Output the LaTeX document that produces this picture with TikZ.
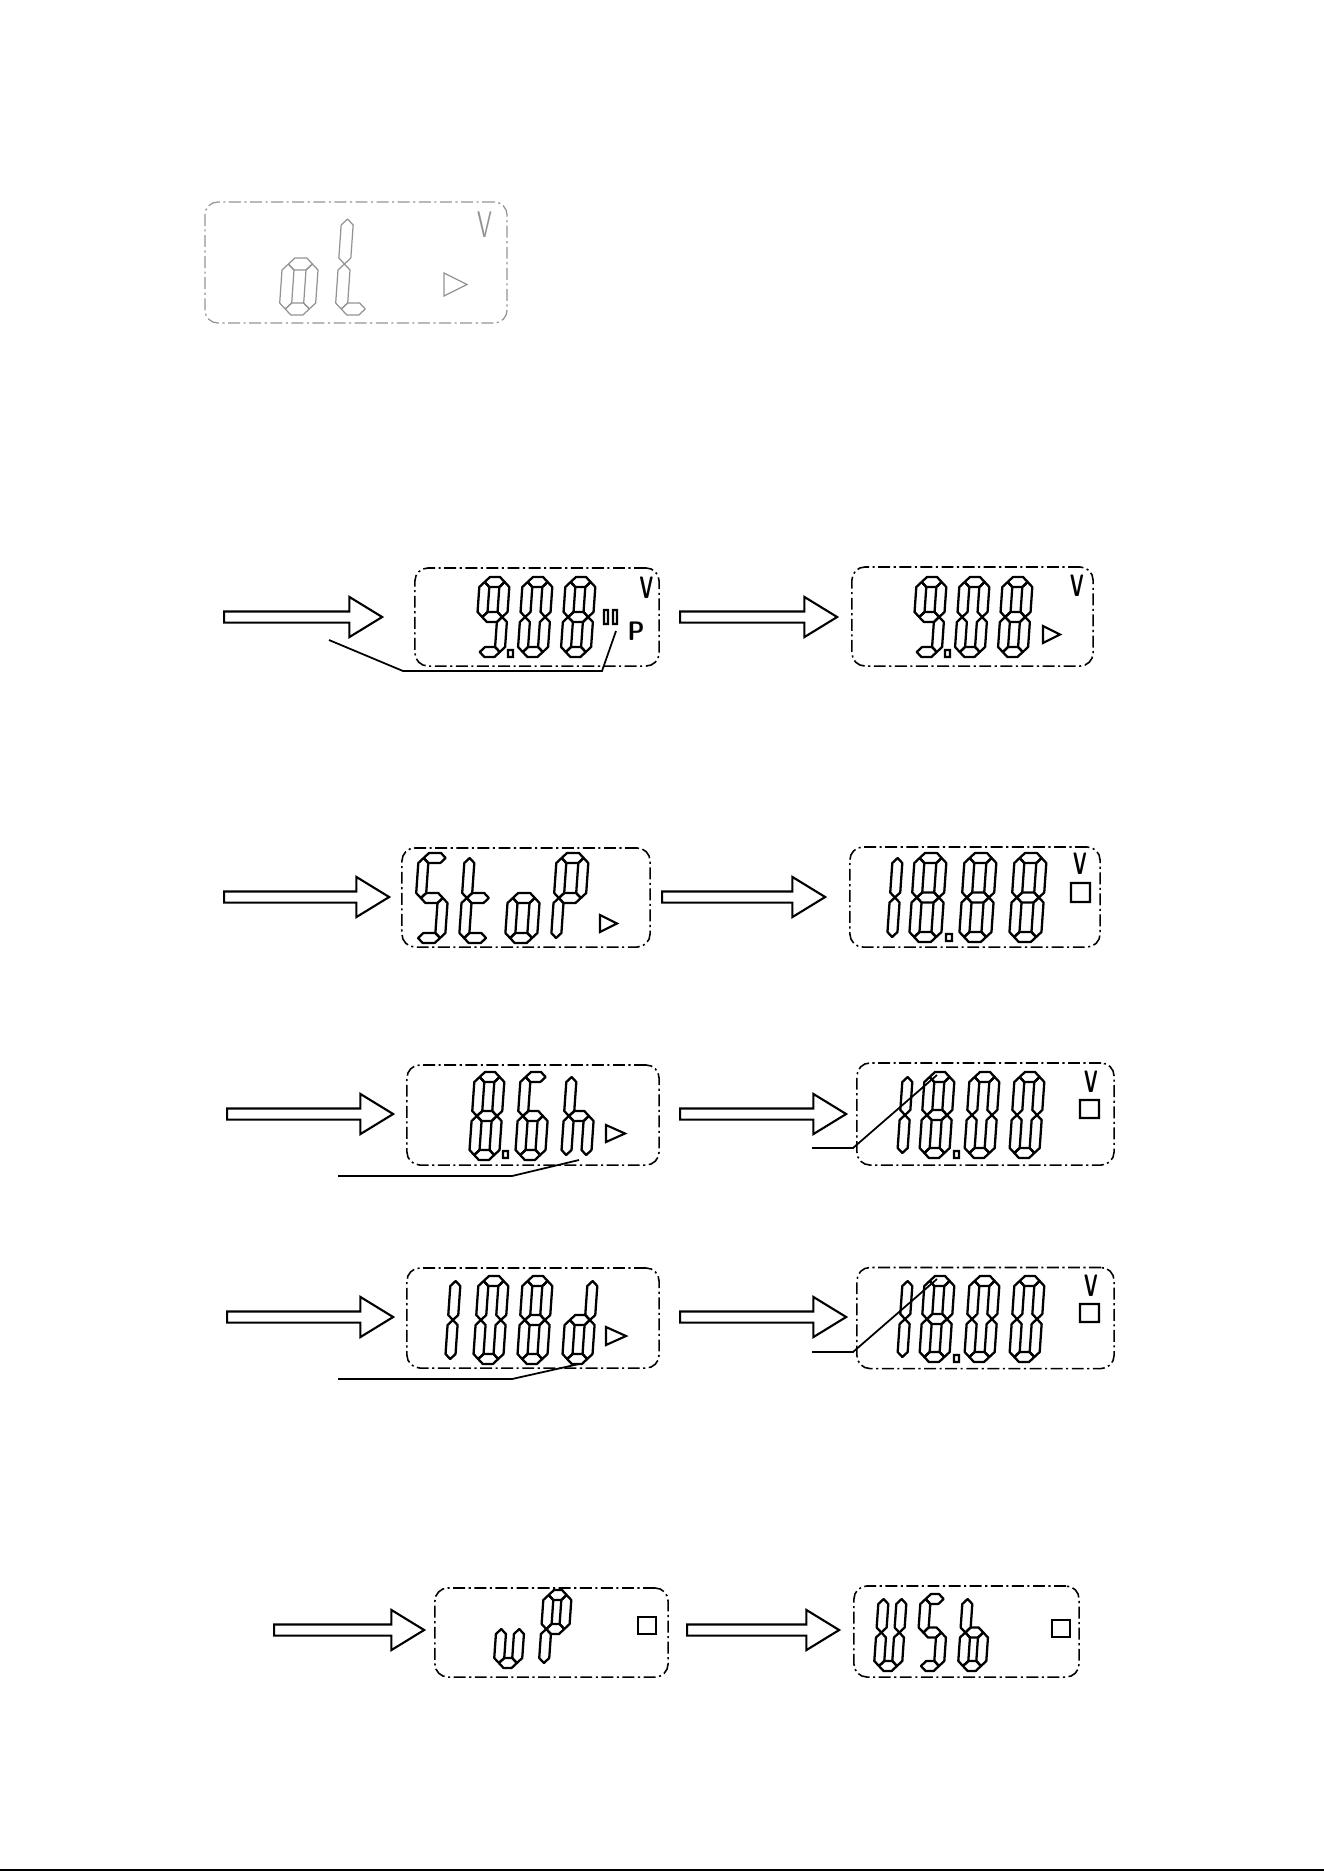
\documentclass[tikz,border=0pt]{standalone}
\usetikzlibrary{shapes.arrows}

\def\lhs{5}
\newcommand\lcdh[3]{\draw[lcdseg] (#1,#3) -- ({#1+\lhs},{#3-\lhs}) -- ({#2-\lhs},{#3-\lhs}) -- (#2,#3) -- ({#2-\lhs},{#3+\lhs}) -- ({#1+\lhs},{#3+\lhs}) -- cycle;}
\newcommand\lcdv[3]{\draw[lcdseg] (#1,#2) -- ({#1+\lhs},{#2+\lhs}) -- ({#1+\lhs},{#3-\lhs}) -- (#1,#3) -- ({#1-\lhs},{#3-\lhs}) -- ({#1-\lhs},{#2+\lhs}) -- cycle;}
\newcommand\lcdsega{\lcdh\lL\lR\lT}
\newcommand\lcdsegg{\lcdh\lL\lR\lM}
\newcommand\lcdsegd{\lcdh\lL\lR\lB}
\newcommand\lcdsegf{\lcdv\lL\lT\lM}
\newcommand\lcdsegb{\lcdv\lR\lT\lM}
\newcommand\lcdsege{\lcdv\lL\lM\lB}
\newcommand\lcdsegc{\lcdv\lR\lM\lB}
% #2,#3 top left corner, #4 width, #5 height, #6 lit segments
\newcommand\lcddigit[6][lcdbold]{%
  \begin{scope}[shift={(#2,#3)}, xslant=0.07, #1]
    \pgfmathsetmacro\lL{\lhs}
    \pgfmathsetmacro\lR{#4-\lhs}
    \pgfmathsetmacro\lT{\lhs}
    \pgfmathsetmacro\lM{#5/2}
    \pgfmathsetmacro\lB{#5-\lhs}
    \foreach \sg in {#6} {\csname lcdseg\sg\endcsname}
  \end{scope}}

\tikzset{
  lcdseg/.style={line join=round},
  lcdbold/.style={line width=0.65pt},
  lcdpale/.style={line width=0.35pt, color=gray!85, /utils/exec={\def\lhs{6}}},
  lcdbox/.style={draw, rounded corners=0.13cm, inner sep=0pt, line width=0.45pt,
                 dash pattern=on 3.4pt off 1pt on 0.6pt off 1pt},
  lcdicon/.style={line width=0.6pt},
  lcdunit/.style={inner sep=0pt, font=\sffamily\bfseries\fontsize{8.8}{8.8}\selectfont},
  blockarrow/.style={single arrow, draw, line width=0.6pt, inner xsep=0pt, inner ysep=0.045cm,
                     single arrow head extend=0.145cm, single arrow tip angle=63, anchor=tail},
  leader/.style={line width=0.5pt}
}

\begin{document}
\begin{tikzpicture}[x=0.01cm, y=-0.01cm]
  \useasboundingbox (0,0) rectangle (1324,1872);
  \path node (disp1)  at (356,262.5)   [lcdbox, draw=gray!85, line width=0.35pt, minimum width=3.02cm, minimum height=1.21cm] {}
        node (unit1)  at (485,225)     [inner sep=0pt, text=gray!85, font=\sffamily\fontsize{10.5}{10.5}\selectfont] {\scalebox{0.6}[1]{V}}
        %
        node (disp2a) at (537,617)     [lcdbox, minimum width=2.44cm, minimum height=0.98cm] {}
        node (disp2b) at (972.5,616.5) [lcdbox, minimum width=2.41cm, minimum height=0.99cm] {}
        node (unit2a) at (646.5,588)   [lcdunit] {\scalebox{0.6}[1]{V}}
        node (hold2a) at (636,631)     [lcdunit, font=\sffamily\bfseries\fontsize{7.6}{7.6}\selectfont] {\scalebox{0.9}[1]{P}}
        node (unit2b) at (1077,586)    [lcdunit] {\scalebox{0.6}[1]{V}}
        node (arr2a)  at (223,617)     [blockarrow, minimum height=1.58cm] {}
        node (arr2b)  at (679,617)     [blockarrow, minimum height=1.57cm] {}
        %
        node (disp3a) at (526,897.5)   [lcdbox, minimum width=2.48cm, minimum height=0.99cm] {}
        node (disp3b) at (975,897)     [lcdbox, minimum width=2.50cm, minimum height=1.00cm] {}
        node (unit3b) at (1080,864)    [lcdunit] {\scalebox{0.6}[1]{V}}
        node (arr3a)  at (223,897)     [blockarrow, minimum height=1.65cm] {}
        node (arr3b)  at (661,897)     [blockarrow, minimum height=1.63cm] {}
        %
        node (disp4a) at (533,1115)    [lcdbox, minimum width=2.52cm, minimum height=1.00cm] {}
        node (disp4b) at (985.5,1114)  [lcdbox, minimum width=2.57cm, minimum height=1.02cm] {}
        node (unit4b) at (1091,1082)   [lcdunit] {\scalebox{0.6}[1]{V}}
        node (arr4a)  at (226,1114)    [blockarrow, minimum height=1.66cm] {}
        node (arr4b)  at (679,1114)    [blockarrow, minimum height=1.66cm] {}
        %
        node (disp5a) at (533,1318)    [lcdbox, minimum width=2.52cm, minimum height=1.00cm] {}
        node (disp5b) at (985.5,1318)  [lcdbox, minimum width=2.57cm, minimum height=1.01cm] {}
        node (unit5b) at (1091,1286)   [lcdunit] {\scalebox{0.6}[1]{V}}
        node (arr5a)  at (226,1317)    [blockarrow, minimum height=1.66cm] {}
        node (arr5b)  at (679,1317)    [blockarrow, minimum height=1.66cm] {}
        %
        node (disp6a) at (551.5,1632.5) [lcdbox, minimum width=2.33cm, minimum height=0.89cm] {}
        node (disp6b) at (966.5,1631.5) [lcdbox, minimum width=2.25cm, minimum height=0.91cm] {}
        node (arr6a)  at (273,1630)    [blockarrow, minimum height=1.50cm] {}
        node (arr6b)  at (686,1630)    [blockarrow, minimum height=1.52cm] {};
  % digits
  \lcddigit[lcdpale]{286}{213}{36}{102}{g,c,d,e}
  \lcddigit[lcdpale]{342}{213}{36}{102}{f,e,d}
  \draw[gray!85, line width=0.35pt] (444,273) -- (467,284.5) -- (444,296) -- cycle;
  %
  \lcddigit{480}{577}{30}{80}{a,b,c,d,f,g}
  \lcddigit{523}{577}{30}{80}{a,b,c,d,e,f}
  \lcddigit{566}{577}{30}{80}{a,b,c,d,e,f,g}
  \lcddigit{917}{577}{30}{80}{a,b,c,d,f,g}
  \lcddigit{960}{577}{30}{80}{a,b,c,d,e,f}
  \lcddigit{1003}{577}{30}{80}{a,b,c,d,e,f,g}
  \draw[lcdicon] (508,650) rectangle (513,657) (945,650) rectangle (950,657)
                 (604,610) rectangle (608,624) (613,610) rectangle (617,624)
                 (1043,626) -- (1060,634.5) -- (1043,643) -- cycle;
  %
  \lcddigit{419}{853}{32}{90}{a,f,g,c,d}
  \lcddigit{465}{853}{32}{90}{f,e,g,d}
  \lcddigit{511}{853}{32}{90}{g,c,d,e}
  \lcddigit{557}{853}{32}{90}{a,b,f,g,e}
  \lcddigit{893}{853}{10}{89}{b,c}
  \lcddigit{915}{853}{32}{89}{a,b,c,d,e,f,g}
  \lcddigit{965}{853}{32}{89}{a,b,c,d,e,f,g}
  \lcddigit{1015}{853}{32}{89}{a,b,c,d,e,f,g}
  \draw[lcdicon] (600,915) -- (617,923.5) -- (600,932) -- cycle
                 (946,934) rectangle (952,941) (1071,883) rectangle (1090,902);
  %
  \lcddigit{475}{1072}{30}{88}{a,b,c,d,e,f,g}
  \lcddigit{521}{1072}{30}{88}{a,f,g,e,c,d}
  \lcddigit{567}{1072}{30}{88}{f,e,g,c}
  \lcddigit{903}{1072}{10}{86}{b,c}
  \lcddigit{925}{1072}{30}{86}{a,b,c,d,e,f,g}
  \lcddigit{970}{1072}{30}{86}{a,b,c,d,e,f}
  \lcddigit{1015}{1072}{30}{86}{a,b,c,d,e,f}
  \draw[lcdicon] (503,1151) rectangle (508,1158) (606,1125) -- (625,1133.5) -- (606,1142) -- cycle
                 (954,1151) rectangle (959,1158) (1080,1100) rectangle (1099,1118);
  %
  \lcddigit{451}{1276}{10}{88}{b,c}
  \lcddigit{479}{1276}{30}{88}{a,b,c,d,e,f}
  \lcddigit{523}{1276}{30}{88}{a,b,c,d,e,f,g}
  \lcddigit{568}{1276}{30}{88}{b,c,d,e,g}
  \lcddigit{903}{1276}{10}{86}{b,c}
  \lcddigit{925}{1276}{30}{86}{a,b,c,d,e,f,g}
  \lcddigit{970}{1276}{30}{86}{a,b,c,d,e,f}
  \lcddigit{1015}{1276}{30}{86}{a,b,c,d,e,f}
  \draw[lcdicon] (606,1327) -- (626,1336) -- (606,1345) -- cycle
                 (954,1355) rectangle (959,1362) (1080,1304) rectangle (1099,1322);
  %
  \lcddigit{499}{1590}{28}{78}{e,c,d}
  \lcddigit{544}{1590}{28}{78}{a,b,f,g,e}
  \lcddigit{879}{1594}{28}{77}{f,b,e,c,d}
  \lcddigit{921}{1594}{28}{77}{a,f,g,c,d}
  \lcddigit{963}{1594}{28}{77}{f,e,g,c,d}
  \draw[lcdicon] (638,1617) rectangle (656,1634) (1052,1620) rectangle (1070,1637);
  % leader lines
  \coordinate (lead2) at (329,640);   \coordinate (hold2) at (616,631);
  \coordinate (lead4) at (338,1176);  \coordinate (unit4) at (579,1160);
  \coordinate (lead4b) at (812,1148); \coordinate (tens4) at (937,1075);
  \coordinate (lead5) at (338,1379);  \coordinate (unit5) at (579,1364);
  \coordinate (lead5b) at (812,1352); \coordinate (tens5) at (937,1279);
  \draw[leader] (lead2) -- (403,671) -- (602,671) -- (hold2)
        (lead4) -- (512,1176) -- (unit4)
        (lead4b) -- (853,1148) -- (tens4)
        (lead5) -- (512,1379) -- (unit5)
        (lead5b) -- (853,1352) -- (tens5);
  \draw[line width=0.8pt] (0,1870) -- (1324,1870);
\end{tikzpicture}
\end{document}
